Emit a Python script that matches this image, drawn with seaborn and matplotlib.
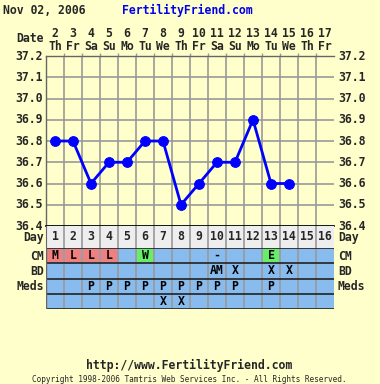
import numpy as np
import matplotlib
matplotlib.use("Agg")
import matplotlib.pyplot as plt
from matplotlib.colors import ListedColormap
import seaborn as sns
import pandas as pd

sns.set_style("white")
plt.rcParams['font.family'] = ['DejaVu Sans Mono', 'DejaVu Sans']

# ---- data ----
days = list(range(1, 17))
dates = [2, 3, 4, 5, 6, 7, 8, 9, 10, 11, 12, 13, 14, 15, 16, 17]
weekdays = ["Th", "Fr", "Sa", "Su", "Mo", "Tu", "We", "Th", "Fr", "Sa", "Su", "Mo", "Tu", "We", "Th", "Fr"]
temp_days = [1, 2, 3, 4, 5, 6, 7, 8, 9, 10, 11, 12, 13, 14]
temps = [36.8, 36.8, 36.6, 36.7, 36.7, 36.8, 36.8, 36.5, 36.6, 36.7, 36.7, 36.9, 36.6, 36.6]
yticks = [36.4, 36.5, 36.6, 36.7, 36.8, 36.9, 37.0, 37.1, 37.2]
cm_text = ["M", "L", "L", "L", "", "W", "", "", "", "-", "", "", "E", "", "", ""]
cm_kind = [1, 1, 1, 1, 0, 2, 0, 0, 0, 0, 0, 0, 2, 0, 0, 0]  # 0 blue, 1 red, 2 green
bd_text = ["", "", "", "", "", "", "", "", "", "AM", "X", "", "X", "X", "", ""]
meds_text = ["", "", "P", "P", "P", "P", "P", "P", "P", "P", "P", "", "P", "", "", ""]
extra_text = ["", "", "", "", "", "", "X", "X", "", "", "", "", "", "", "", ""]
row_labels = ["CM", "BD", "Meds", ""]

BG = "#FFFFCC"
BLUE_CELL = "#88BBEE"
RED_CELL = "#F08080"
GREEN_CELL = "#66EE66"
GRID = "#999999"

W, H = 380, 384
fig = plt.figure(figsize=(W / 100, H / 100), dpi=100, facecolor=BG)

def fx(px):
    return px / W

def fy(py):
    return 1 - py / H

L, R = 46, 334
TOP, BOT = 56, 226
DAY_BOT = 248
TAB_BOT = 309
FS = 8.3

# ---- temperature axes ----
ax = fig.add_axes([fx(L), fy(BOT), fx(R - L), (BOT - TOP) / H])
ax.set_facecolor(BG)
df = pd.DataFrame({"day": temp_days, "temp": temps})
sns.lineplot(data=df, x="day", y="temp", ax=ax, color="#0000FF", linewidth=2,
             marker="o", markersize=7, markeredgecolor="#0000FF", markerfacecolor="#0000FF")
ax.set_xlim(0.5, 16.5)
ax.set_ylim(36.4, 37.2)
ax.set_xticks([d + 0.5 for d in days[:-1]])
ax.set_yticks(yticks)
ax.grid(True, color=GRID, linewidth=1.2)
ax.set_axisbelow(True)
ax.tick_params(axis="x", length=2.5, width=1, color=GRID, top=True, bottom=False,
               labeltop=False, labelbottom=False)
ax.tick_params(axis="y", length=0, labelleft=False)
ax.set_xlabel("")
ax.set_ylabel("")
for s in ["left", "top"]:
    ax.spines[s].set_color("#666666")
    ax.spines[s].set_linewidth(1)
ax.spines["right"].set_visible(False)
ax.spines["bottom"].set_color("black")
ax.spines["bottom"].set_linewidth(1.2)
for t in yticks:
    ax.text(-0.012, t, f"{t:.1f}", transform=ax.get_yaxis_transform(), ha="right", va="center",
            fontsize=FS, fontweight="bold")
    ax.text(1.014, t, f"{t:.1f}", transform=ax.get_yaxis_transform(), ha="left", va="center",
            fontsize=FS, fontweight="bold")
# header (dates / weekdays)
for d, dt, wd in zip(days, dates, weekdays):
    ax.text(d, 37.2 + 0.8 * (23 / 170), str(dt), ha="center", va="center", fontsize=FS, fontweight="bold")
    ax.text(d, 37.2 + 0.8 * (10 / 170), wd, ha="center", va="center", fontsize=FS, fontweight="bold")
fig.text(fx(44), fy(39), "Date", ha="right", va="center", fontsize=FS, fontweight="bold")

# ---- day row ----
axd = fig.add_axes([fx(L), fy(DAY_BOT), fx(R - L), (DAY_BOT - BOT) / H])
axd.set_facecolor("#EEEEEE")
axd.set_xlim(0.5, 16.5)
axd.set_ylim(0, 1)
for d in days:
    axd.text(d, 0.5, str(d), ha="center", va="center", fontsize=FS, fontweight="bold")
for d in days[:-1]:
    axd.axvline(d + 0.5, color=GRID, linewidth=1.2)
axd.set_xticks([])
axd.set_yticks([])
for s in axd.spines.values():
    s.set_visible(False)
axd.spines["left"].set_visible(True)
axd.spines["left"].set_color("#666666")
fig.text(fx(44), fy(238), "Day", ha="right", va="center", fontsize=FS, fontweight="bold")
fig.text(fx(338), fy(238), "Day", ha="left", va="center", fontsize=FS, fontweight="bold")

# ---- colored table via heatmap ----
axt = fig.add_axes([fx(L), fy(TAB_BOT), fx(R - L), (TAB_BOT - DAY_BOT) / H])
axt.set_facecolor(BLUE_CELL)
kinds = np.array([cm_kind, [0] * 16, [0] * 16, [0] * 16])
annots = np.array([cm_text, bd_text, meds_text, extra_text], dtype=object)
sns.heatmap(kinds, ax=axt, cmap=ListedColormap([BLUE_CELL, RED_CELL, GREEN_CELL]), vmin=-0.5, vmax=2.5,
            cbar=False, annot=annots, fmt="", linewidths=1.3, linecolor=BLUE_CELL,
            annot_kws={"fontsize": FS, "fontweight": "bold", "color": "black"})
axt.set_xticks([])
axt.set_yticks([])
for i in range(1, 16):
    axt.axvline(i, color=GRID, linewidth=1.2)
for j in range(0, 5):
    axt.axhline(j, color="#222222", linewidth=1.2)
axt.axvline(0, color="#666666", linewidth=1)
centers = [256, 271.5, 286.5]
for lab, cy in zip(row_labels[:3], centers):
    fig.text(fx(44), fy(cy), lab, ha="right", va="center", fontsize=FS, fontweight="bold")
    fig.text(fx(338), fy(cy), lab, ha="left", va="center", fontsize=FS, fontweight="bold")

# ---- titles / footer ----
fig.text(fx(3), fy(10), "Nov 02, 2006", ha="left", va="center", fontsize=FS, fontweight="bold")
fig.text(fx(122), fy(10), "FertilityFriend.com", ha="left", va="center", fontsize=FS,
         fontweight="bold", color="#0000EE")
fig.text(fx(189), fy(365), "http://www.FertilityFriend.com", ha="center", va="center",
         fontsize=FS, fontweight="bold")
fig.text(fx(189), fy(379), "Copyright 1998-2006 Tamtris Web Services Inc. - All Rights Reserved.",
         ha="center", va="center", fontsize=5.6)

fig.savefig("out.png", dpi=100, facecolor=BG)
